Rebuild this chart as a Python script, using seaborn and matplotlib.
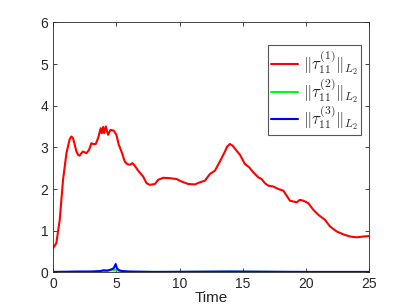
import matplotlib
matplotlib.use("Agg")
import matplotlib.pyplot as plt
import seaborn as sns
import pandas as pd

# norm of tau_11 components over time
t1 = [0, 0.26, 0.53, 0.79, 1.06, 1.32, 1.45, 1.58, 1.85, 1.98, 2.11, 2.24, 2.37, 2.64,
      2.85, 3.03, 3.17, 3.38, 3.56, 3.77, 3.85, 3.96, 4.04, 4.17, 4.35, 4.54, 4.80, 5.01,
      5.20, 5.41, 5.67, 5.86, 6.07, 6.28, 6.46, 6.73, 7.12, 7.39, 7.65, 8.05, 8.31, 8.71,
      9.23, 9.76, 10.16, 10.69, 11.21, 11.61, 12.01, 12.40, 12.80, 13.19, 13.59, 13.77,
      13.98, 14.20, 14.51, 14.78, 15.17, 15.51, 15.83, 16.23, 16.49, 16.75, 17.02, 17.41,
      17.81, 18.21, 18.47, 18.73, 19.26, 19.52, 19.79, 20.18, 20.58, 20.98, 21.50, 21.90,
      22.43, 22.96, 23.48, 24.01, 24.54, 25.0]
v1 = [0.58, 0.70, 1.26, 2.22, 2.86, 3.20, 3.26, 3.22, 2.90, 2.82, 2.80, 2.86, 2.90, 2.86,
      2.94, 3.10, 3.08, 3.08, 3.22, 3.46, 3.34, 3.49, 3.34, 3.50, 3.30, 3.42, 3.40, 3.30,
      3.06, 2.90, 2.66, 2.60, 2.58, 2.62, 2.56, 2.44, 2.30, 2.14, 2.10, 2.12, 2.22, 2.27,
      2.26, 2.24, 2.18, 2.12, 2.11, 2.16, 2.20, 2.36, 2.44, 2.66, 2.90, 3.02,
      3.08, 3.04, 2.92, 2.82, 2.60, 2.52, 2.40, 2.28, 2.24, 2.14, 2.08, 2.06,
      2.00, 1.96, 1.84, 1.72, 1.68, 1.74, 1.72, 1.66, 1.50, 1.38, 1.26, 1.10,
      0.98, 0.91, 0.86, 0.84, 0.86, 0.87]

t2 = [0, 2, 3.5, 4.0, 4.5, 5.0, 5.3, 6.0, 10, 14, 18, 25]
v2 = [0.005, 0.008, 0.01, 0.03, 0.05, 0.06, 0.03, 0.01, 0.008, 0.015, 0.008, 0.005]

t3 = [0, 1, 2, 3, 3.7, 4.0, 4.3, 4.6, 4.8, 4.95, 5.05, 5.2, 5.5, 6, 8, 14, 20, 25]
v3 = [0.01, 0.015, 0.02, 0.02, 0.03, 0.05, 0.04, 0.07, 0.10, 0.20, 0.10, 0.05, 0.03,
      0.02, 0.01, 0.02, 0.01, 0.01]

labels = [r'$\|\tau_{11}^{(1)}\|_{L_2}$', r'$\|\tau_{11}^{(2)}\|_{L_2}$',
          r'$\|\tau_{11}^{(3)}\|_{L_2}$']
colors = ['#ff0000', '#00ff00', '#0000ff']

sns.set_style("ticks")
plt.rcParams['font.family'] = ['Liberation Sans', 'DejaVu Sans']
plt.rcParams['mathtext.fontset'] = 'cm'

fig = plt.figure(figsize=(4.08, 3.06), dpi=100)
ax = fig.add_axes([0.13, 0.11, 0.775, 0.817])

for t, v, lab, c in zip([t1, t2, t3], [v1, v2, v3], labels, colors):
    df = pd.DataFrame({'Time': t, 'val': v})
    sns.lineplot(data=df, x='Time', y='val', ax=ax, color=c, lw=1.5, label=lab)

ax.set_xlim(0, 25)
ax.set_ylim(0, 6)
ax.set_xticks(range(0, 26, 5))
ax.set_yticks(range(0, 7))
ax.set_xlabel('Time', fontsize=11, labelpad=0)
ax.set_ylabel('')
ax.tick_params(direction='in', top=True, right=True, labelsize=10, length=3,
               color='#262626', labelcolor='#262626', width=0.6)
for s in ax.spines.values():
    s.set_linewidth(0.6)
    s.set_color('#262626')
    s.set_visible(True)

leg = ax.legend(loc='upper right', bbox_to_anchor=(0.975, 0.908), borderaxespad=0,
                fancybox=False, framealpha=1, edgecolor='#555555', fontsize=12,
                handlelength=1.6, handletextpad=0.3, labelspacing=-0.05, borderpad=0.2)
leg.get_frame().set_linewidth(0.8)

fig.savefig('out.png', dpi=100)
